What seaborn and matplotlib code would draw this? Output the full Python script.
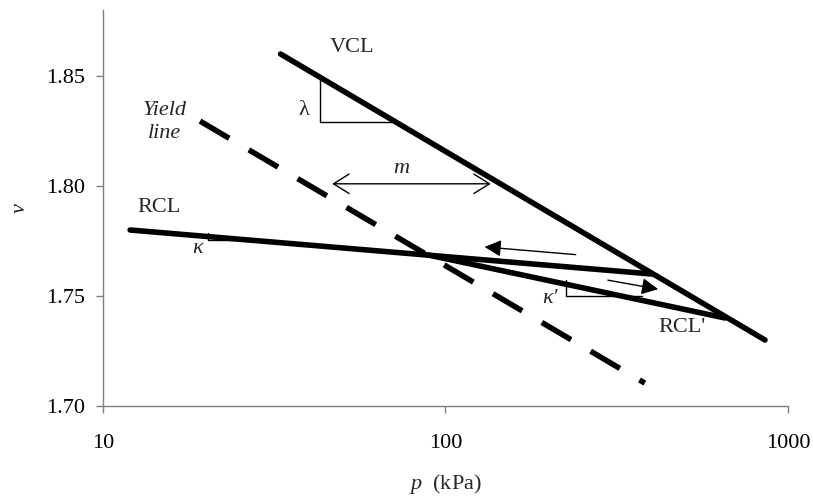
import matplotlib
matplotlib.use("Agg")
import matplotlib.pyplot as plt
import seaborn as sns
from matplotlib.ticker import NullLocator, FixedLocator

# line end points (p in kPa, v specific volume)
vcl_p = [33, 857]
vcl_v = [1.860, 1.730]
yield_p = [19.2, 382]
yield_v = [1.8295, 1.7104]
rcl_p = [12, 400]
rcl_v = [1.780, 1.760]
rcl2_p = [88, 655]
rcl2_v = [1.7688, 1.740]

# slope triangles
lam_p = [43.0, 43.0, 70.4]
lam_v = [1.8487, 1.8293, 1.8293]
kap_p = [20.3, 20.3, 27.0]
kap_v = [1.7785, 1.7753, 1.7753]
kap2_p = [225, 225, 374]
kap2_v = [1.7572, 1.7500, 1.7500]

# arrows: (tail, head)
arrow_unload = [(240, 1.7688), (130, 1.7723)]
arrow_reload = [(298, 1.7572), (418, 1.7531)]
m_arrow = [(46.7, 1.801), (135.6, 1.801)]

x_ticks = [10, 100, 1000]
x_tick_labels = ["10", "100", "1000"]
y_ticks = [1.70, 1.75, 1.80, 1.85]

sns.set_style("ticks")
plt.rcParams["font.family"] = ["Liberation Serif", "DejaVu Serif"]
plt.rcParams["mathtext.fontset"] = "custom"
plt.rcParams["mathtext.rm"] = "Liberation Serif"
plt.rcParams["mathtext.it"] = "Liberation Serif:italic"

fig, ax = plt.subplots(figsize=(8.13, 5), dpi=100)
fig.subplots_adjust(left=0.1267, right=0.9692, bottom=0.188, top=0.98)

thick = 4.0
sns.lineplot(x=vcl_p, y=vcl_v, ax=ax, color="black", lw=thick,
             estimator=None, sort=False, solid_capstyle="round")
sns.lineplot(x=rcl_p, y=rcl_v, ax=ax, color="black", lw=thick,
             estimator=None, sort=False, solid_capstyle="round")
sns.lineplot(x=rcl2_p, y=rcl2_v, ax=ax, color="black", lw=thick,
             estimator=None, sort=False, solid_capstyle="round")
sns.lineplot(x=yield_p, y=yield_v, ax=ax, color="black", lw=thick,
             estimator=None, sort=False)
ax.lines[-1].set_dashes((6.1, 4.1))
ax.lines[-1].set_dash_capstyle("butt")

for tp, tv in [(lam_p, lam_v), (kap_p, kap_v), (kap2_p, kap2_v)]:
    sns.lineplot(x=tp, y=tv, ax=ax, color="black", lw=1.0,
                 estimator=None, sort=False)

for tail, head in [arrow_unload, arrow_reload]:
    ax.annotate("", xy=head, xytext=tail,
                arrowprops=dict(arrowstyle="-|>,head_length=0.4,head_width=0.2",
                                mutation_scale=25, lw=1.0, color="black",
                                shrinkA=0, shrinkB=0))
ax.annotate("", xy=m_arrow[1], xytext=m_arrow[0],
            arrowprops=dict(arrowstyle="<->,head_length=0.8,head_width=0.5",
                            mutation_scale=14, lw=1.0, color="black",
                            shrinkA=0, shrinkB=0))

fs = 16
ax.text(53.3, 1.863, "VCL", fontsize=fs, ha="center", va="center")
ax.text(38.5, 1.8343, "λ", fontsize=fs, ha="center", va="center")
ax.text(74.5, 1.808, "m", fontsize=fs, style="italic", ha="center", va="center")
ax.text(15.1, 1.829, "Yield\nline", fontsize=fs, style="italic",
        ha="center", va="center", linespacing=1.3)
ax.text(14.6, 1.790, "RCL", fontsize=fs, ha="center", va="center")
ax.text(18.9, 1.7717, "κ", fontsize=fs, style="italic", ha="center", va="center")
ax.text(202, 1.749, "κ'", fontsize=fs, style="italic", ha="center", va="center")
ax.text(492, 1.7356, "RCL'", fontsize=fs, ha="center", va="center")

ax.set_xscale("log")
ax.set_xlim(10, 1000)
ax.set_ylim(1.70, 1.88)
ax.xaxis.set_major_locator(FixedLocator(x_ticks))
ax.xaxis.set_minor_locator(NullLocator())
ax.set_xticklabels(x_tick_labels)
ax.set_yticks(y_ticks)
ax.set_yticklabels([f"{t:.2f}" for t in y_ticks])

for side in ["top", "right"]:
    ax.spines[side].set_visible(False)
for side in ["left", "bottom"]:
    ax.spines[side].set_color("#808080")
    ax.spines[side].set_linewidth(1.0)
ax.tick_params(axis="both", colors="#808080", labelcolor="black",
               labelsize=fs, length=5, width=1.0, direction="out")
ax.tick_params(axis="x", pad=15)
ax.tick_params(axis="y", pad=8)

ax.set_xlabel("$p$  (kPa)", fontsize=fs, labelpad=14)
ax.set_ylabel("v", fontsize=fs, style="italic", labelpad=12)

fig.savefig("out.png", dpi=100)
